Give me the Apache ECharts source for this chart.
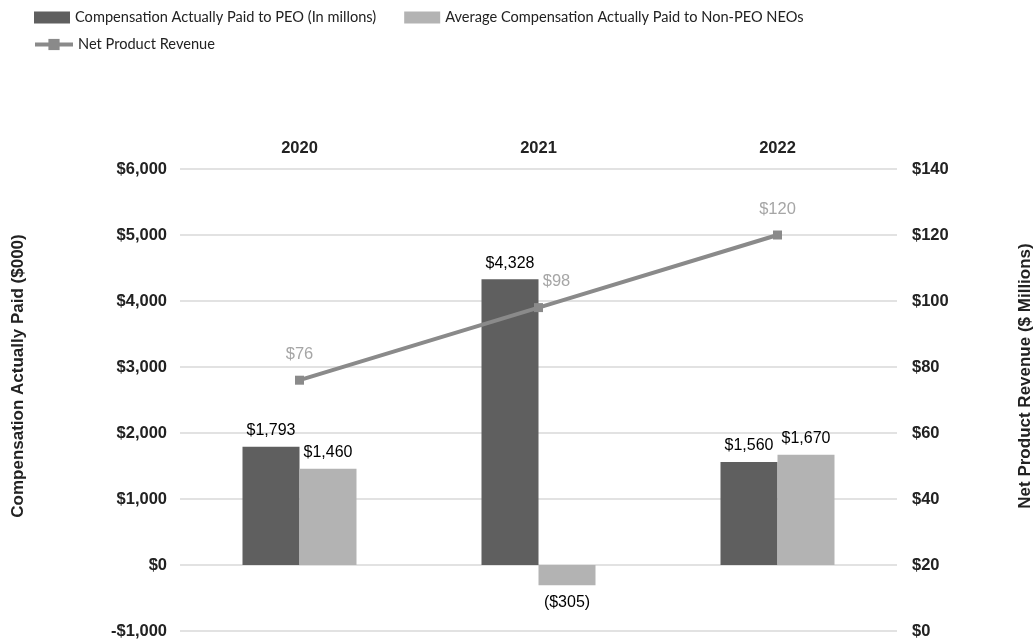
<!DOCTYPE html>
<html><head><meta charset="utf-8">
<script src="https://cdn.jsdelivr.net/npm/echarts@6/dist/echarts.min.js"></script>
<style>html,body{margin:0;padding:0;background:#fff}#c{width:1034px;height:642px}</style>
</head><body><div id="c"></div>
<script>
const categories = ['2020', '2021', '2022'];
const peoValues = [1793, 4328, 1560];
const nonPeoValues = [1460, -305, 1670];
const revenueValues = [76, 98, 120];
const leftTicks = [-1000, 0, 1000, 2000, 3000, 4000, 5000, 6000];
const rightTicks = [0, 20, 40, 60, 80, 100, 120, 140];

function money(v) {
  const s = '$' + Math.abs(v).toLocaleString('en-US');
  return v < 0 ? '(' + s + ')' : s;
}
function axisMoney(v) {
  const s = '$' + Math.abs(v).toLocaleString('en-US');
  return v < 0 ? '-' + s : s;
}

const chart = echarts.init(document.getElementById('c'), null, {renderer: 'canvas'});
const F = 'Liberation Sans, Arial, sans-serif';
const legendFont = 'Lato, Open Sans, sans-serif';
const tickStyle = {fontFamily: F, fontWeight: 'bold', fontSize: 16.5, color: '#222'};
chart.setOption({
  animation: false,
  backgroundColor: '#fff',
  legend: [
    {left: 34, top: 10, padding: 0, itemWidth: 36, itemHeight: 12, itemGap: 28, icon: 'rect',
     textStyle: {fontFamily: legendFont, fontSize: 14.6, color: '#222'},
     data: ['Compensation Actually Paid to PEO (In millons)', 'Average Compensation Actually Paid to Non-PEO NEOs']},
    {left: 33, top: 37, padding: 0, itemWidth: 38, itemHeight: 14, itemGap: 10,
     lineStyle: {width: 4},
     textStyle: {fontFamily: legendFont, fontSize: 14.6, color: '#222'},
     data: ['Net Product Revenue']}
  ],
  grid: {left: 180, right: 137, top: 169, bottom: 11, outerBoundsMode: 'none', containLabel: false},
  xAxis: {
    type: 'category', position: 'top', data: categories,
    axisLine: {show: false}, axisTick: {show: false},
    axisLabel: Object.assign({margin: 12}, tickStyle)
  },
  yAxis: [
    {type: 'value', min: -1000, max: 6000, interval: 1000,
     name: 'Compensation Actually Paid ($000)', nameLocation: 'middle', nameGap: 153,
     nameTextStyle: {fontFamily: F, fontWeight: 'bold', fontSize: 17, color: '#222', padding: [0, 0, 0, 48]},
     axisLine: {show: false}, axisTick: {show: false},
     axisLabel: Object.assign({margin: 13, formatter: v => leftTicks.includes(v) ? axisMoney(v) : ''}, tickStyle),
     splitLine: {lineStyle: {color: '#d9d9d9', width: 1.5}}},
    {type: 'value', min: 0, max: 140, interval: 20,
     name: 'Net Product Revenue ($ Millions)', nameLocation: 'middle', nameGap: 120,
     nameTextStyle: {fontFamily: F, fontWeight: 'bold', fontSize: 17, color: '#222', padding: [0, 0, 0, 48]},
     axisLine: {show: false}, axisTick: {show: false},
     axisLabel: Object.assign({margin: 15, formatter: v => rightTicks.includes(v) ? axisMoney(v) : ''}, tickStyle),
     splitLine: {show: false}}
  ],
  series: [
    {name: 'Compensation Actually Paid to PEO (In millons)', type: 'bar', data: peoValues,
     barWidth: 57, barGap: '0%', itemStyle: {color: '#5f5f5f'},
     label: {show: true, position: 'top', distance: 8, fontFamily: F, fontSize: 16, color: '#000', formatter: p => money(p.value)}},
    {name: 'Average Compensation Actually Paid to Non-PEO NEOs', type: 'bar',
     data: nonPeoValues.map(v => v < 0 ? {value: v, label: {position: 'bottom', distance: 9}} : v),
     barWidth: 57, barGap: '0%', itemStyle: {color: '#b3b3b3'},
     label: {show: true, position: 'top', distance: 8, fontFamily: F, fontSize: 16, color: '#000',
       formatter: p => money(p.value)}},
    {name: 'Net Product Revenue', type: 'line', yAxisIndex: 1,
     data: revenueValues.map((v, i) => i === 1 ? {value: v, label: {offset: [18, 0]}} : v),
     symbol: 'rect', symbolSize: 9, itemStyle: {color: '#8a8a8a'}, lineStyle: {color: '#8a8a8a', width: 4},
     label: {show: true, position: 'top', distance: 13, fontFamily: F, fontSize: 16.5, color: '#a6a6a6', formatter: p => money(p.value)}}
  ]
});
</script></body></html>
